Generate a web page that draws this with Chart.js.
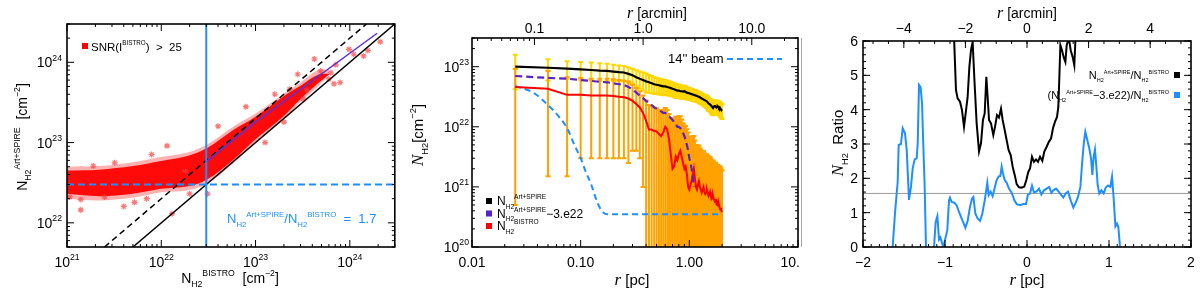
<!DOCTYPE html>
<html lang="en">
<head>
  <meta charset="UTF-8">
  <title>N_H2 comparison: Art+SPIRE vs BISTRO</title>
  <script src="https://cdn.jsdelivr.net/npm/chart.js"></script>
  <style>
    body { margin: 0; background: #fff; }
    .panel { position: absolute; top: 0; width: 400px; height: 294px; }
    #sep { position: absolute; left: 801px; top: 38px; width: 1px; height: 209px; background: #a8a8a8; }
  </style>
</head>
<body>
  <div class="panel" style="left:0"><canvas id="c1" width="400" height="294"></canvas></div>
  <div class="panel" style="left:400px"><canvas id="c2" width="400" height="294"></canvas></div>
  <div class="panel" style="left:800px"><canvas id="c3" width="400" height="294"></canvas></div>
  <div id="sep"></div>

  <script>
    const PC_PER_ARCMIN = 0.3755;

    // ---- panel 1: N_H2(Art+SPIRE) against N_H2(BISTRO)
    const cloudX    = [1.0e21, 2.2e21, 5e21, 1e22, 1.9e22, 3.1e22, 5.9e22, 1e23, 2e23, 3e23, 4.6e23, 6e23];
    const haloUpper = [5.0e22, 5.1e22, 5.7e22, 6.6e22, 7.5e22, 9.5e22, 1.6e23, 2.3e23, 4.1e23, 5.6e23, 8.0e23, 8e23];
    const haloLower = [2.0e22, 1.9e22, 2.05e22, 2.4e22, 2.55e22, 3.1e22, 5.6e22, 1.0e23, 1.95e23, 3.2e23, 5.0e23, 7e23];
    const coreUpper = [4.5e22, 4.6e22, 5.1e22, 5.9e22, 6.8e22, 8.6e22, 1.45e23, 2.1e23, 3.8e23, 5.1e23, 7.0e23, 7.2e23];
    const coreLower = [2.3e22, 2.15e22, 2.3e22, 2.65e22, 2.85e22, 3.5e22, 6.2e22, 1.1e23, 2.15e23, 3.5e23, 5.5e23, 7e23];
    const outlierX = [1.15e22, 1.9e21, 4.0e21, 5.2e21, 1.4e21, 1.3e22, 3.1e22, 1.4e21, 1.07e21, 1.8e22, 2.0e22,
                      2.1e24, 1.55e24, 9.8e23, 1.4e24, 4.2e23, 7.9e23, 7.1e23, 1.1e24, 6.3e23, 4.9e23, 6e23, 2.3e23, 6.8e23,
                      3.2e21, 7.9e21, 2.5e21, 7e21, 4e22, 7.9e22, 1.6e23, 1.26e23, 2e23, 3.2e23, 2.8e23, 3.5e23];
    const outlierY = [9.1e22, 5.1e22, 1.6e22, 1.8e22, 1.45e22, 1.3e22, 2.3e22, 1.95e22, 2.1e22, 4.4e22, 2.3e22,
                      1.8e24, 1.4e24, 1.45e24, 1.2e24, 1.1e24, 5.6e23, 9.3e23, 1.26e24, 7.4e23, 7.8e23, 6.2e23, 4.6e23, 5.4e23,
                      5.6e22, 7.1e22, 2.1e22, 2.0e22, 1.6e23, 2.8e23, 4.0e23, 1.0e23, 1.8e23, 3.5e23, 7.1e23, 4.5e23];
    const equalX  = [5e21, 3e24];    const equalY  = [5e21, 3e24];
    const ratioX  = [2.5e21, 1.5e24]; const ratioY  = [5e21, 3e24];
    const fitX    = [3e22, 1e23, 1.95e24]; const fitY = [5.8e22, 1.8e23, 2.3e24];
    const cutValue = 3e22;

    // ---- panel 2: radial profiles
    const rPc = [0.025,0.05,0.075,0.1,0.125,0.15,0.175,0.2,0.225,0.25,0.275,0.3,0.325,0.35,0.375,0.4,0.425,0.45,0.475,0.5,
                 0.525,0.55,0.575,0.6,0.625,0.65,0.675,0.7,0.725,0.75,0.775,0.8,0.825,0.85,0.875,0.9,0.925,0.95,0.975,1.0,
                 1.025,1.05,1.075,1.1,1.125,1.15,1.175,1.2,1.225,1.25,1.275,1.3,1.325,1.35,1.375,1.4,1.425,1.45,1.475,1.5,
                 1.525,1.55,1.575,1.6,1.625,1.65,1.675,1.7,1.725,1.75,1.775,1.8,1.825,1.85,1.875,1.9,1.925,1.95,1.975,2.0];
    const nArtSpire = [1.0e23,9.6e22,9.3e22,9.0e22,8.8e22,8.6e22,8.5e22,8.3e22,8.1e22,8.0e22,
                       7.6e22,7.2e22,6.7e22,6.3e22,6.0e22,5.7e22,5.5e22,5.3e22,5.1e22,5.0e22,
                       4.9e22,4.8e22,4.7e22,4.7e22,4.6e22,4.5e22,4.4e22,4.3e22,4.2e22,4.1e22,
                       4.0e22,4.0e22,3.9e22,3.9e22,3.85e22,3.9e22,3.8e22,3.7e22,3.65e22,3.6e22,
                       3.55e22,3.5e22,3.45e22,3.4e22,3.35e22,3.3e22,3.25e22,3.2e22,3.15e22,3.1e22,
                       3.0e22,2.95e22,2.9e22,2.85e22,2.8e22,2.75e22,2.7e22,2.65e22,2.55e22,2.45e22,
                       2.4e22,2.35e22,2.3e22,2.2e22,2.15e22,2.1e22,2.15e22,2.2e22,2.2e22,2.15e22,
                       2.1e22,2.15e22,2.2e22,2.15e22,2.05e22,2.1e22,2.0e22,1.95e22,1.9e22,1.85e22];
    const errArtSpire = [5.8e22,3.7e22,3.0e22,3.0e22,2.9e22,2.8e22,2.7e22,2.5e22,2.4e22,2.3e22,
                         2.2e22,2.0e22,2.0e22,2.0e22,2.0e22,2.0e22,1.8e22,1.7e22,1.6e22,1.5e22,
                         1.45e22,1.4e22,1.35e22,1.3e22,1.25e22,1.2e22,1.15e22,1.1e22,1.1e22,1.05e22,
                         1.0e22,1.0e22,9.5e21,9.5e21,9e21,9e21,8.5e21,8.5e21,8e21,8e21,
                         7.5e21,7.5e21,7.5e21,7e21,7e21,7e21,6.5e21,6.5e21,6.5e21,6.5e21,
                         6e21,6e21,6e21,6e21,6e21,6e21,6e21,6e21,6e21,6e21,
                         5.5e21,5.5e21,5.5e21,5.5e21,5.5e21,5.5e21,5.5e21,5.5e21,5.5e21,5.5e21,
                         5e21,5e21,5e21,5e21,5e21,5e21,5e21,5e21,5e21,5e21];
    const nBistro = [4.6e22,4.3e22,3.4e22,3.4e22,3.3e22,3.3e22,3.3e22,3.25e22,3.15e22,3.1e22,
                     2.95e22,2.7e22,2.4e22,2.1e22,1.7e22,1.25e22,9e21,9e21,8.5e21,8.3e21,
                     7.6e21,7.0e21,8.0e21,1.0e22,9.1e21,6.3e21,3.5e21,2.0e21,2.2e21,3.2e21,
                     2.8e21,3.5e21,4.0e21,3.2e21,2.5e21,2.0e21,2.2e21,1.6e21,1.0e21,9e20,
                     1.1e21,1.25e21,1.6e21,2.0e21,1.4e21,1.0e21,9e20,1.1e21,1.25e21,1.0e21,
                     9e20,8e20,9e20,1.0e21,8.3e20,7.6e20,8e20,9e20,8e20,7.1e20,
                     7.6e20,8.3e20,7.1e20,6.3e20,6.6e20,7.1e20,6.3e20,6.0e20,5.6e20,6.3e20,
                     5.2e20,5.0e20,5.2e20,4.8e20,5.0e20,4.5e20,4.2e20,4.5e20,4.0e20,3.8e20];
    const errBistro = [4.55e22,4.15e22,3.25e22,3.1e22,3.0e22,3.0e22,3.0e22,2.95e22,2.85e22,2.8e22,
                       2.7e22,2.3e22,2.0e22,1.8e22,1.6e22,1.5e22,1.4e22,1.3e22,1.25e22,1.2e22,
                       1.15e22,1.1e22,1.1e22,1.05e22,1.0e22,1.0e22,1.05e22,1.1e22,1.15e22,1.15e22,
                       1.15e22,1.15e22,1.1e22,1.0e22,9e21,8.5e21,8e21,7.5e21,7e21,6e21,
                       5.5e21,5.5e21,5e21,5e21,4.5e21,4e21,4e21,3.8e21,3.6e21,3.4e21,
                       3.2e21,3e21,3e21,2.9e21,2.8e21,2.7e21,2.6e21,2.6e21,2.5e21,2.5e21,
                       2.4e21,2.3e21,2.2e21,2.1e21,2.1e21,2.0e21,2.0e21,1.9e21,1.9e21,1.9e21,
                       1.8e21,1.8e21,1.8e21,1.7e21,1.7e21,1.75e21,1.7e21,1.6e21,1.5e21,1.5e21];
    const nSub = [7.0e22,6.5e22,6.3e22,6.0e22,5.8e22,5.6e22,5.5e22,5.3e22,5.1e22,5.0e22,
                  4.6e22,4.2e22,3.7e22,3.3e22,3.0e22,2.7e22,2.5e22,2.3e22,2.1e22,2.0e22,
                  1.9e22,1.8e22,1.7e22,1.7e22,1.6e22,1.5e22,1.4e22,1.3e22,1.2e22,1.1e22,
                  1.0e22,1.0e22,9.5e21,9e21,8e21,7e21,6e21,5e21,4e21,3e21,
                  2.5e21,2e21,1.5e21,1e21];
    const rBeam = [0.025,0.0375,0.05,0.0625,0.075,0.0875,0.1,0.1125,0.125,0.1375,0.15,0.1625,0.175,2.0];
    const nBeam = [4.8e22,3.6e22,2.3e22,1.5e22,9.5e21,5e21,3e21,1.7e21,1.1e21,6.5e20,4.5e20,3.7e20,3.5e20,3.5e20];

    // ---- panel 3: N_H2 ratio cut
    const cutR   = [-1.638,-1.610,-1.577,-1.565,-1.537,-1.516,-1.488,-1.467,-1.439,-1.415,-1.394,-1.370,-1.346,-1.333,-1.317,-1.297,-1.280,-1.264,-1.248,-1.232,
                    -1.18,
                    -1.134,-1.114,-1.093,-1.073,-1.057,-1.037,-1.020,-0.972,-0.951,-0.939,-0.919,-0.886,-0.858,-0.829,-0.805,-0.776,-0.752,-0.724,-0.695,
                    -0.671,-0.654,-0.630,-0.602,-0.573,-0.545,-0.512,-0.484,-0.467,-0.443,-0.419,-0.390,-0.370,-0.346,-0.325,-0.309,-0.293,-0.272,-0.248,-0.220,
                    -0.187,-0.154,-0.126,-0.085,-0.045,-0.012,0.012,0.037,0.061,0.085,0.118,0.146,0.175,0.207,0.240,0.272,0.297,0.321,0.354,0.386,
                    0.419,0.443,0.472,0.500,0.533,0.565,0.590,0.622,0.651,0.675,0.695,0.711,0.736,0.760,0.781,0.797,0.813,0.829,0.846,0.862,
                    0.882,0.907,0.935,0.960,0.988,1.016,1.037,1.057,1.078,1.098,1.114,1.134];
    const cutRatioSub = [0,0.98,1.90,2.97,3.00,3.46,3.31,2.83,1.37,1.75,2.29,2.55,2.58,3.00,4.72,4.65,4.18,2.92,1.76,0,
                         null,
                         0,0.73,0.90,0.22,0.28,0.12,0,0.49,1.36,1.44,1.31,1.29,1.21,1.02,0.88,0.71,0.56,0.76,1.17,
                         1.41,1.46,0.97,0.83,0.76,0.97,1.41,1.87,1.51,1.61,1.48,1.76,1.95,2.05,2.07,2.34,2.14,1.95,1.87,1.70,
                         1.58,1.36,1.25,1.22,1.25,1.25,1.53,1.56,1.79,1.59,1.62,1.70,1.53,1.65,1.70,1.75,1.58,1.65,1.70,1.61,
                         1.51,1.44,1.56,1.61,1.36,1.15,1.27,1.46,1.75,2.53,3.07,3.36,3.11,2.87,2.58,2.10,2.63,2.84,2.34,1.80,
                         1.56,1.65,1.56,1.73,1.79,1.75,2.05,1.41,0.60,0.68,0.58,0];
    const cutRBlack = [-0.888,-0.866,-0.846,-0.817,-0.793,-0.768,-0.748,-0.724,-0.703,-0.683,-0.663,-0.639,-0.614,-0.585,-0.561,-0.537,-0.516,-0.496,-0.480,-0.463,
                       -0.439,-0.411,-0.390,-0.366,-0.342,-0.317,-0.297,-0.272,-0.248,-0.224,-0.199,-0.175,-0.150,-0.126,-0.098,-0.065,-0.033,-0.008,0.016,0.037,
                       0.061,0.085,0.110,0.134,0.159,0.187,0.211,0.240,0.268,0.293,0.317,0.342,0.366,0.382,0.394,0.407,0.427,0.447,0.468,0.484,
                       0.500,0.508,0.516,0.533,0.557,0.577,0.590];
    const cutRatio = [6.0,4.57,4.33,4.23,3.99,3.50,3.89,4.37,5.24,5.73,5.97,4.76,3.60,2.78,3.02,3.70,3.89,4.96,4.37,3.70,
                      3.60,3.26,3.50,3.84,3.77,4.03,3.70,3.41,3.11,2.82,2.68,2.34,2.10,1.83,1.74,1.73,1.76,1.95,2.19,2.29,
                      2.63,2.48,2.55,2.48,2.63,2.51,2.78,2.92,3.07,3.16,3.46,3.65,3.79,4.08,4.91,5.88,5.73,5.53,5.39,5.88,
                      6.0,null,6.0,5.73,5.53,5.29,6.0];
    const meanRatio = 1.56;

    // ---------- drawing helpers
    const SANS = '"Liberation Sans", Arial, sans-serif';
    const SERIF = '"Liberation Serif", "DejaVu Serif", serif';
    const BLUE = '#1e8fff', PURPLE = '#5522cc';

    function partFont(kind, size, small) {
      if (kind === 'sub' || kind === 'sup') return (size * small).toFixed(1) + 'px ' + SANS;
      if (kind === 'it') return 'italic ' + Math.round(size * 1.15) + 'px ' + SERIF;
      return size + 'px ' + SANS;
    }
    function drawRich(ctx, parts, x, y, size, color, align, small) {
      small = small || 0.62;
      let w = 0;
      for (const [t, k] of parts) { ctx.font = partFont(k, size, small); w += ctx.measureText(t).width; }
      let cx = align === 'center' ? x - w / 2 : align === 'right' ? x - w : x;
      ctx.fillStyle = color;
      ctx.textAlign = 'left';
      ctx.textBaseline = 'alphabetic';
      for (const [t, k] of parts) {
        ctx.font = partFont(k, size, small);
        const dy = k === 'sub' ? size * 0.3 : k === 'sup' ? -size * 0.48 : 0;
        ctx.fillText(t, cx, y + dy);
        cx += ctx.measureText(t).width;
      }
    }
    function logMinors(e0, e1) {
      const out = [];
      for (let e = e0; e <= e1; e++) for (let m = 2; m <= 9; m++) out.push(m * Math.pow(10, e));
      return out;
    }
    function linTicks(a, b, step) {
      const out = [];
      for (let v = a; v <= b + 1e-9; v += step) out.push(+v.toFixed(6));
      return out;
    }
    const pow10 = e => [['10', ''], [String(e), 'sup']];
    const plain = s => [[s, '']];

    // IDL-like framed axes: ticks pointing inwards on all four sides
    function idlAxes(axes, extra) {
      return {
        id: 'idlAxes',
        afterDraw(chart) {
          const ctx = chart.ctx, a = chart.chartArea;
          ctx.save();
          ctx.strokeStyle = '#000';
          ctx.lineWidth = 1;
          for (const ax of axes) {
            const sc = chart.scales[ax.scale];
            const horiz = ax.side === 'top' || ax.side === 'bottom';
            const lo = horiz ? a.left : a.top, hi = horiz ? a.right : a.bottom;
            const mark = (v, len) => {
              const p = sc.getPixelForValue(v);
              if (p < lo - 0.5 || p > hi + 0.5) return null;
              ctx.beginPath();
              if (ax.side === 'bottom') { ctx.moveTo(p, a.bottom); ctx.lineTo(p, a.bottom - len); }
              if (ax.side === 'top')    { ctx.moveTo(p, a.top);    ctx.lineTo(p, a.top + len); }
              if (ax.side === 'left')   { ctx.moveTo(a.left, p);   ctx.lineTo(a.left + len, p); }
              if (ax.side === 'right')  { ctx.moveTo(a.right, p);  ctx.lineTo(a.right - len, p); }
              ctx.stroke();
              return p;
            };
            ax.minor.forEach(v => mark(v, 3));
            ax.major.forEach((v, i) => {
              const p = mark(v, 7);
              if (p === null || !ax.labels) return;
              const off = ax.off || 0;
              if (ax.side === 'bottom') drawRich(ctx, ax.labels[i], p, a.bottom + 20 + off, 14, '#000', 'center');
              if (ax.side === 'top')    drawRich(ctx, ax.labels[i], p, a.top - 5 - off, 14, '#000', 'center');
              if (ax.side === 'left')   drawRich(ctx, ax.labels[i], a.left - 5 + off, p + 5, 14, '#000', 'right');
            });
          }
          ctx.lineWidth = 1.6;
          ctx.strokeRect(a.left, a.top, a.right - a.left, a.bottom - a.top);
          extra(ctx, chart);
          ctx.restore();
        }
      };
    }
    function vTitle(ctx, parts, x, y, size) {
      ctx.save();
      ctx.translate(x, y);
      ctx.rotate(-Math.PI / 2);
      drawRich(ctx, parts, 0, 0, size, '#000', 'center');
      ctx.restore();
    }
    const zip = (xs, ys) => xs.map((x, i) => ({ x: x, y: ys[i] }));
    const line = (data, color, width, extra) => Object.assign({
      type: 'line', data: data, borderColor: color, backgroundColor: color, borderWidth: width,
      pointRadius: 0, tension: 0, fill: false
    }, extra || {});
    const baseOptions = (padding, scales) => ({
      responsive: false, animation: false, devicePixelRatio: 1,
      layout: { padding: padding },
      plugins: { legend: { display: false }, tooltip: { enabled: false } },
      scales: scales
    });

    // ---------- panel 1
    new Chart(document.getElementById('c1'), {
      type: 'line',
      data: {
        datasets: [
          line([{ x: cutValue, y: 5e21 }, { x: cutValue, y: 3e24 }], BLUE, 2, { order: 1 }),
          line([{ x: 1e21, y: cutValue }, { x: 3e24, y: cutValue }], BLUE, 2, { order: 2, borderDash: [7, 4] }),
          line(zip(fitX, fitY), '#5a32d8', 1.5, { order: 3 }),
          line(zip(equalX, equalY), '#000', 1.5, { order: 4 }),
          line(zip(ratioX, ratioY), '#000', 1.5, { order: 5, borderDash: [6, 4] }),
          { type: 'scatter', data: zip(outlierX, outlierY), pointStyle: 'star', pointRadius: 3,
            borderColor: 'rgba(255,60,60,0.7)', backgroundColor: 'rgba(255,60,60,0.7)', borderWidth: 1.2, order: 20 },
          line(zip(cloudX, haloLower), 'rgba(255,0,0,0)', 0, { order: 40, tension: 0.35 }),
          line(zip(cloudX, haloUpper), 'rgba(255,0,0,0)', 0, { order: 40, tension: 0.35, fill: '-1', backgroundColor: 'rgba(255,60,60,0.4)' }),
          line(zip(cloudX, coreLower), 'rgba(255,0,0,0)', 0, { order: 30, tension: 0.35 }),
          line(zip(cloudX, coreUpper), 'rgba(255,0,0,0)', 0, { order: 30, tension: 0.35, fill: '-1', backgroundColor: 'rgba(255,0,0,0.95)' })
        ]
      },
      options: baseOptions({ left: 67, right: 5, top: 24, bottom: 47 }, {
        x: { type: 'logarithmic', min: 1e21, max: 3e24, display: false },
        y: { type: 'logarithmic', min: 5e21, max: 3e24, display: false }
      }),
      plugins: [idlAxes([
        { side: 'bottom', scale: 'x', major: [1e21, 1e22, 1e23, 1e24], minor: logMinors(21, 24), labels: [21, 22, 23, 24].map(pow10) },
        { side: 'top', scale: 'x', major: [1e21, 1e22, 1e23, 1e24], minor: logMinors(21, 24) },
        { side: 'left', scale: 'y', major: [1e22, 1e23, 1e24], minor: logMinors(21, 24), labels: [22, 23, 24].map(pow10) },
        { side: 'right', scale: 'y', major: [1e22, 1e23, 1e24], minor: logMinors(21, 24) }
      ], (ctx) => {
        drawRich(ctx, [['N', ''], ['H2', 'sub'], ['BISTRO', 'sup'], ['  [cm', ''], ['\u22122', 'sup'], [']', '']], 230, 283, 14, '#000', 'center');
        vTitle(ctx, [['N', ''], ['H2', 'sub'], ['Art+SPIRE', 'sup'], ['  [cm', ''], ['\u22122', 'sup'], [']', '']], 27, 137, 14);
        ctx.fillStyle = '#ff0000';
        ctx.fillRect(82, 43, 6, 6);
        drawRich(ctx, [['SNR(I', ''], ['BISTRO', 'sup'], [')  >  25', '']], 91, 51, 11.5, '#000', 'left', 0.55);
        drawRich(ctx, [['N', ''], ['H2', 'sub'], ['Art+SPIRE', 'sup'], ['/N', ''], ['H2', 'sub'], ['BISTRO', 'sup'], ['  =  1.7', '']], 227, 223, 13, BLUE, 'left', 0.6);
      })]
    });

    // ---------- panel 2
    const errBars = {
      id: 'errBars',
      beforeDatasetsDraw(chart) {
        const { ctx, chartArea: a } = chart;
        const xs = chart.scales.x, ys = chart.scales.y;
        ctx.save();
        ctx.beginPath();
        ctx.rect(a.left, a.top, a.right - a.left, a.bottom - a.top);
        ctx.clip();
        ctx.lineWidth = 2;
        const bars = (vals, errs, color) => {
          ctx.strokeStyle = color;
          rPc.forEach((r, i) => {
            const px = xs.getPixelForValue(r);
            const hi = ys.getPixelForValue(vals[i] + errs[i]);
            const lo = vals[i] - errs[i] > 0 ? ys.getPixelForValue(vals[i] - errs[i]) : a.bottom + 6;
            ctx.beginPath();
            ctx.moveTo(px, hi); ctx.lineTo(px, lo);
            ctx.moveTo(px - 2.5, hi); ctx.lineTo(px + 2.5, hi);
            ctx.moveTo(px - 2.5, lo); ctx.lineTo(px + 2.5, lo);
            ctx.stroke();
          });
        };
        bars(nArtSpire, errArtSpire, '#ffd700');
        bars(nBistro, errBistro, '#ffa200');
        ctx.restore();
      }
    };
    new Chart(document.getElementById('c2'), {
      type: 'line',
      data: {
        datasets: [
          line(zip(rPc, nArtSpire), '#000', 2.2),
          line(zip(rPc, nSub), PURPLE, 2.2, { borderDash: [7, 4] }),
          line(zip(rPc, nBistro), '#ff0000', 2),
          line(zip(rBeam, nBeam), BLUE, 2, { borderDash: [6, 4], cubicInterpolationMode: 'monotone' })
        ]
      },
      options: baseOptions({ left: 72, right: 2, top: 38, bottom: 47 }, {
        x: { type: 'logarithmic', min: 0.01, max: 10, display: false },
        x2: { type: 'logarithmic', axis: 'x', position: 'top', min: 0.01 / PC_PER_ARCMIN, max: 10 / PC_PER_ARCMIN, display: false },
        y: { type: 'logarithmic', min: 1e20, max: 3e23, display: false }
      }),
      plugins: [errBars, idlAxes([
        { side: 'bottom', scale: 'x', major: [0.01, 0.1, 1, 10], minor: logMinors(-2, 0), labels: ['0.01', '0.10', '1.00', '10.00'].map(plain) },
        { side: 'top', scale: 'x2', major: [0.1, 1, 10], minor: logMinors(-2, 1), labels: ['0.1', '1.0', '10.0'].map(plain) },
        { side: 'left', scale: 'y', major: [1e20, 1e21, 1e22, 1e23], minor: logMinors(20, 23), labels: [20, 21, 22, 23].map(pow10), off: 2 },
        { side: 'right', scale: 'y', major: [1e20, 1e21, 1e22, 1e23], minor: logMinors(20, 23) }
      ], (ctx) => {
        drawRich(ctx, [['r', 'it'], [' [arcmin]', '']], 257, 18, 14, '#000', 'center');
        drawRich(ctx, [['r', 'it'], [' [pc]', '']], 232, 285, 15, '#000', 'center');
        vTitle(ctx, [['N', 'it'], ['H2', 'sub'], ['[cm', ''], ['\u22122', 'sup'], [']', '']], 23, 135, 15);
        drawRich(ctx, [["14'' beam", '']], 268, 63, 13, '#000', 'left');
        ctx.strokeStyle = BLUE; ctx.lineWidth = 2; ctx.setLineDash([6, 4]);
        ctx.beginPath(); ctx.moveTo(327, 59); ctx.lineTo(382, 59); ctx.stroke();
        ctx.setLineDash([]);
        const rows = [
          ['#000', [['N', ''], ['H2', 'sub'], ['Art+SPIRE', 'sup']]],
          [PURPLE, [['N', ''], ['H2', 'sub'], ['Art+SPIRE', 'sup'], ['\u22123.e22', '']]],
          ['#ff0000', [['N', ''], ['H2', 'sub'], ['BISTRO', 'sup']]]
        ];
        rows.forEach(([c, parts], i) => {
          ctx.fillStyle = c;
          ctx.fillRect(86, 198 + i * 12.5, 6, 6);
          drawRich(ctx, parts, 97, 205 + i * 12.5, 12, '#000', 'left', 0.55);
        });
      })]
    });

    // ---------- panel 3
    new Chart(document.getElementById('c3'), {
      type: 'line',
      data: {
        datasets: [
          line(zip(cutRBlack, cutRatio), '#000', 2),
          line(zip(cutR, cutRatioSub), BLUE, 2),
          line([{ x: -2, y: meanRatio }, { x: 2, y: meanRatio }], '#9a9a9a', 1)
        ]
      },
      options: baseOptions({ left: 63, right: 9, top: 41, bottom: 47 }, {
        x: { type: 'linear', min: -2, max: 2, display: false },
        x2: { type: 'linear', axis: 'x', position: 'top', min: -2 / PC_PER_ARCMIN, max: 2 / PC_PER_ARCMIN, display: false },
        y: { type: 'linear', min: 0, max: 6, display: false }
      }),
      plugins: [idlAxes([
        { side: 'bottom', scale: 'x', major: [-2, -1, 0, 1, 2], minor: linTicks(-2, 2, 0.1), labels: ['\u22122', '\u22121', '0', '1', '2'].map(plain) },
        { side: 'top', scale: 'x2', major: [-4, -2, 0, 2, 4], minor: linTicks(-5, 5, 0.5), labels: ['\u22124', '\u22122', '0', '2', '4'].map(plain), off: 3 },
        { side: 'left', scale: 'y', major: [0, 1, 2, 3, 4, 5, 6], minor: linTicks(0, 6, 0.2), labels: ['0', '1', '2', '3', '4', '5', '6'].map(plain) },
        { side: 'right', scale: 'y', major: [0, 1, 2, 3, 4, 5, 6], minor: linTicks(0, 6, 0.2) }
      ], (ctx) => {
        drawRich(ctx, [['r', 'it'], [' [arcmin]', '']], 227, 18, 14, '#000', 'center');
        drawRich(ctx, [['r', 'it'], [' [pc]', '']], 227, 285, 15, '#000', 'center');
        vTitle(ctx, [['N', 'it'], ['H2', 'sub'], ['  Ratio', '']], 43, 143, 15);
        drawRich(ctx, [['N', ''], ['H2', 'sub'], ['Art+SPIRE', 'sup'], ['/N', ''], ['H2', 'sub'], ['BISTRO', 'sup']], 369, 79, 11, '#000', 'right', 0.5);
        ctx.fillStyle = '#000'; ctx.fillRect(374, 72, 6, 6);
        drawRich(ctx, [['(N', ''], ['H2', 'sub'], ['Art+SPIRE', 'sup'], ['\u22123.e22)/N', ''], ['H2', 'sub'], ['BISTRO', 'sup']], 369, 99, 11, '#000', 'right', 0.5);
        ctx.fillStyle = BLUE; ctx.fillRect(374, 92, 6, 6);
      })]
    });
  </script>
</body>
</html>
